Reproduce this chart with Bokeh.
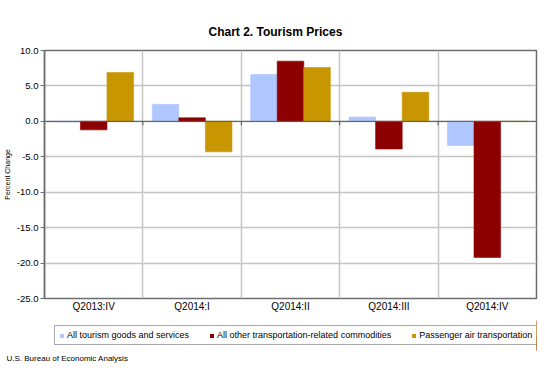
from bokeh.plotting import figure
from bokeh.layouts import column
from bokeh.models import (ColumnDataSource, FixedTicker, NumeralTickFormatter, Range1d,
                          Span, Legend, LegendItem)
from bokeh.embed import file_html
from bokeh.resources import INLINE

categories = ["Q2013:IV", "Q2014:I", "Q2014:II", "Q2014:III", "Q2014:IV"]
tourism = [-0.1, 2.4, 6.6, 0.6, -3.4]
other_transport = [-1.2, 0.5, 8.5, -3.9, -19.2]
air = [6.9, -4.3, 7.6, 4.1, 0.0]
series_names = ["All tourism goods and services",
                "All other transportation-related commodities",
                "Passenger air transportation"]
series_colors = ["#b0c8ff", "#8c0000", "#c89600"]
y_ticks = [-25, -20, -15, -10, -5, 0, 5, 10]

FONT = "Liberation Sans"
n = len(categories)
centers = [i + 0.5 for i in range(n)]
bar_w = 0.27

p = figure(width=545, height=320, output_backend="svg", toolbar_location=None,
           x_range=Range1d(0, n), y_range=Range1d(y_ticks[0], y_ticks[-1]),
           min_border_left=43, min_border_right=9, min_border_top=50, min_border_bottom=22,
           tools="")
p.background_fill_color = "white"
p.border_fill_color = "white"
p.outline_line_color = "#6e6e6e"
p.outline_line_width = 1.5

# title
p.title.text = "Chart 2. Tourism Prices"
p.title.text_font = FONT
p.title.text_font_size = "12px"
p.title.text_font_style = "bold"
p.title.text_color = "#000000"
p.title.align = "left"
p.title.offset = 164
p.title.standoff = 24

sources = []
for k, (vals, color) in enumerate(zip([tourism, other_transport, air], series_colors)):
    xs = [c + (k - 1) * bar_w for c in centers]
    src = ColumnDataSource(dict(x=xs, top=vals))
    sources.append(src)
    p.vbar(x="x", top="top", bottom=0, width=bar_w, source=src,
           fill_color=color, line_color=color, line_alpha=0.6, line_width=1)

# zero line and small ticks at category boundaries
p.add_layout(Span(location=0, dimension="width", line_color="#555555", line_width=1))
bnd = ColumnDataSource(dict(x=list(range(1, n)), y0=[0] * (n - 1), y1=[-0.55] * (n - 1)))
p.segment(x0="x", y0="y0", x1="x", y1="y1", source=bnd, line_color="#555555", line_width=1)

# grids
p.xgrid.ticker = FixedTicker(ticks=list(range(1, n)))
p.xgrid.grid_line_color = "#c4c4c4"
p.xgrid.grid_line_width = 1.5
p.ygrid.ticker = FixedTicker(ticks=y_ticks)
p.ygrid.grid_line_color = "#c4c4c4"
p.ygrid.grid_line_width = 1.5

# x axis
p.xaxis.ticker = FixedTicker(ticks=centers)
p.xaxis.major_label_overrides = {c: name for c, name in zip(centers, categories)}
p.xaxis.major_tick_line_color = None
p.xaxis.major_tick_out = 0
p.xaxis.major_tick_in = 0
p.xaxis.minor_tick_line_color = None
p.xaxis.minor_tick_out = 0
p.xaxis.minor_tick_in = 0
p.xaxis.axis_line_color = None
p.xaxis.major_label_text_font = FONT
p.xaxis.major_label_text_font_size = "10px"
p.xaxis.major_label_text_color = "#000000"
p.xaxis.major_label_standoff = 2

# y axis
p.yaxis.ticker = FixedTicker(ticks=y_ticks)
p.yaxis.formatter = NumeralTickFormatter(format="0.0")
p.yaxis.axis_line_color = "#6e6e6e"
p.yaxis.axis_line_width = 1.5
p.yaxis.major_tick_line_color = "#6e6e6e"
p.yaxis.major_tick_out = 4
p.yaxis.major_tick_in = 0
p.yaxis.minor_tick_line_color = None
p.yaxis.major_label_text_font = FONT
p.yaxis.major_label_text_font_size = "9.5px"
p.yaxis.major_label_text_color = "#000000"
p.yaxis.major_label_standoff = 2
p.yaxis.axis_label = "Percent Change"
p.yaxis.axis_label_text_font = FONT
p.yaxis.axis_label_text_font_size = "7px"
p.yaxis.axis_label_text_font_style = "normal"
p.yaxis.axis_label_text_color = "#000000"
p.yaxis.axis_label_standoff = 3

# second strip: legend and footer (source note as a title below)
q = figure(width=545, height=51, output_backend="svg", toolbar_location=None,
           x_range=Range1d(0, 1), y_range=Range1d(0, 1), tools="",
           x_axis_type=None, y_axis_type=None, title_location="below",
           min_border_left=43, min_border_right=9, min_border_top=0, min_border_bottom=21)
q.outline_line_color = None
q.xgrid.visible = False
q.ygrid.visible = False
q.background_fill_color = "white"
q.border_fill_color = "white"
q.title.text = "U.S. Bureau of Economic Analysis"
q.title.text_font = FONT
q.title.text_font_size = "8px"
q.title.text_font_style = "normal"
q.title.text_color = "#000000"
q.title.align = "left"
q.title.offset = -38
q.title.standoff = 2

leg_renderers = []
for src, color in zip(sources, series_colors):
    r = q.vbar(x="x", top="top", bottom=0, width=0, source=src,
               fill_color=color, line_color=None)
    leg_renderers.append(r)

legend = Legend(items=[LegendItem(label=nm, renderers=[r]) for nm, r in zip(series_names, leg_renderers)],
                orientation="horizontal", location=(10, 5),
                label_text_font=FONT, label_text_font_size="9px", label_text_color="#000000",
                glyph_width=5, glyph_height=5, label_standoff=3, spacing=20, padding=4,
                label_height=10, border_line_color="#555555", border_line_width=1,
                margin=0, background_fill_alpha=1.0)
q.add_layout(legend)

layout = column(p, q, spacing=0)
open("out.html", "w").write(file_html(layout, INLINE))
